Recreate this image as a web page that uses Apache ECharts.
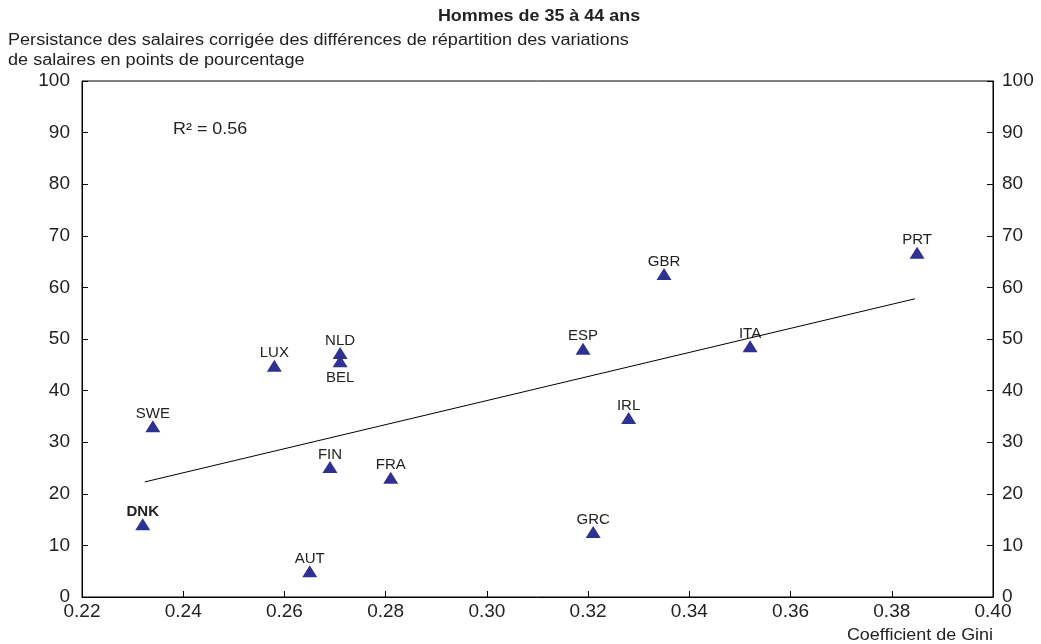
<!DOCTYPE html>
<html><head><meta charset="utf-8">
<script src="https://cdn.jsdelivr.net/npm/echarts@6/dist/echarts.min.js"></script>
<style>html,body{margin:0;padding:0;background:#fff}#c{width:1041px;height:644px}</style>
</head><body><div id="c"></div>
<script>
const countries = ['DNK','SWE','AUT','FIN','FRA','LUX','NLD','BEL','ESP','GBR','IRL','GRC','ITA','PRT'];
const gini =      [0.232,0.234,0.265,0.269,0.281,0.258,0.271,0.271,0.319,0.335,0.328,0.321,0.352,0.385];
const persist =   [14.1, 33.1, 5.0, 25.2, 23.1, 44.8, 47.3, 45.7, 48.1, 62.6, 34.7, 12.6, 48.6, 66.7];
const trendX = [0.2324, 0.3846];
const trendY = [22.3, 57.8];
const yTicks = [0,10,20,30,40,50,60,70,80,90,100];
const xTicks = ['0.22','0.24','0.26','0.28','0.30','0.32','0.34','0.36','0.38','0.40'];

const font = 'Liberation Sans, Arial, sans-serif';
const chart = echarts.init(document.getElementById('c'));
const pts = countries.map((c,i)=>({
  value:[gini[i], persist[i]],
  name:c,
  label:{position: c==='BEL' ? 'bottom' : 'top', fontWeight: c==='DNK' ? 'bold' : 'normal',
         distance: c==='BEL' ? 3 : -1}
}));
chart.setOption({
  animation:false,
  textStyle:{fontFamily:font},
  grid:{left:82, right:48, top:81, bottom:47, show:true, borderColor:'#000', borderWidth:1},
  xAxis:{type:'value', min:0.22, max:0.40, interval:0.02,
    axisLine:{lineStyle:{color:'#000'}}, axisTick:{inside:true, length:6, lineStyle:{color:'#000'}},
    axisLabel:{fontSize:19, color:'#222', margin:5, formatter:v=>xTicks[Math.round((v-0.22)/0.02)]},
    splitLine:{show:false}},
  yAxis:[
    {type:'value', min:0, max:100, interval:10, position:'left',
     axisLine:{show:true, lineStyle:{color:'#000'}}, axisTick:{show:true, inside:true, length:6, lineStyle:{color:'#000'}},
     axisLabel:{fontSize:19, color:'#222', margin:12, formatter:v=>String(yTicks[Math.round(v/10)])}, splitLine:{show:false}},
    {type:'value', min:0, max:100, interval:10, position:'right',
     axisLine:{show:true, lineStyle:{color:'#000'}}, axisTick:{show:true, inside:true, length:6, lineStyle:{color:'#000'}},
     axisLabel:{fontSize:19, color:'#222', margin:9, formatter:v=>String(yTicks[Math.round(v/10)])}, splitLine:{show:false}}
  ],
  graphic:[
    {type:'text', x:539, y:9, scaleX:1.12, style:{text:'Hommes de 35 à 44 ans', font:'bold 16px '+font, fill:'#222', textAlign:'center'}},
    {type:'text', x:8, y:31, scaleX:1.13, style:{text:'Persistance des salaires corrigée des différences de répartition des variations\nde salaires en points de pourcentage', font:'16px '+font, fill:'#222', lineHeight:20}},
    {type:'text', x:173, y:122, scaleX:1.12, style:{text:'R² = 0.56', font:'16px '+font, fill:'#222'}},
    {type:'text', x:993, y:628, scaleX:1.12, style:{text:'Coefficient de Gini', font:'16px '+font, fill:'#222', textAlign:'right'}}
  ],
  series:[
    {type:'line', data:trendX.map((x,i)=>[x,trendY[i]]), symbol:'none', silent:true,
     lineStyle:{color:'#000', width:1}},
    {type:'scatter', data:pts, symbol:'triangle', symbolSize:[15,12],
     itemStyle:{color:'#2E3192', opacity:1},
     label:{show:true, formatter:'{b}', fontSize:15, color:'#222', fontFamily:font}}
  ]
});
</script></body></html>
